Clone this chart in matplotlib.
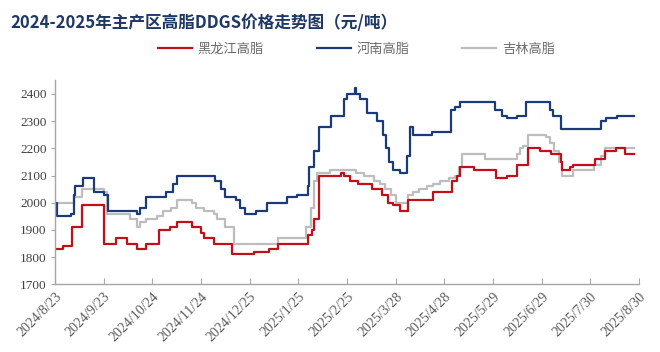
import matplotlib
matplotlib.use("Agg")
import matplotlib.pyplot as plt
import pandas as pd

# change points (date, price) - prices held until next change
hlj_dates = ["2024-08-23", "2024-08-28", "2024-09-03", "2024-09-09", "2024-09-23", "2024-10-01",
             "2024-10-08", "2024-10-14", "2024-10-20", "2024-10-28", "2024-11-04", "2024-11-09",
             "2024-11-18", "2024-11-24", "2024-11-26", "2024-12-02", "2024-12-14", "2024-12-28",
             "2025-01-06", "2025-01-12", "2025-01-31", "2025-02-03", "2025-02-04", "2025-02-07",
             "2025-02-21", "2025-02-23", "2025-02-27", "2025-03-04", "2025-03-13", "2025-03-19",
             "2025-03-23", "2025-03-26", "2025-03-31", "2025-04-05", "2025-04-21", "2025-05-03",
             "2025-05-06", "2025-05-08", "2025-05-17", "2025-05-31", "2025-06-07", "2025-06-13",
             "2025-06-20", "2025-06-28", "2025-07-05", "2025-07-11", "2025-07-12", "2025-07-17",
             "2025-07-19", "2025-08-02", "2025-08-08", "2025-08-15", "2025-08-21", "2025-08-27"]
hlj_vals = [1830, 1840, 1910, 1990, 1850, 1870,
            1850, 1830, 1850, 1900, 1910, 1930,
            1910, 1890, 1870, 1850, 1810, 1820,
            1830, 1850, 1880, 1900, 1940, 2100,
            2110, 2100, 2080, 2070, 2050, 2030,
            2000, 1990, 1970, 2010, 2040, 2080,
            2100, 2130, 2120, 2090, 2100, 2140,
            2200, 2190, 2180, 2150, 2120, 2130,
            2140, 2160, 2190, 2200, 2180, 2180]

hn_dates = ["2024-08-23", "2024-08-24", "2024-09-02", "2024-09-04", "2024-09-05", "2024-09-10",
            "2024-09-17", "2024-09-23", "2024-09-26", "2024-10-14", "2024-10-16", "2024-10-20",
            "2024-11-02", "2024-11-06", "2024-11-09", "2024-12-03", "2024-12-07", "2024-12-09",
            "2024-12-16", "2024-12-19", "2024-12-22", "2024-12-29", "2025-01-05", "2025-01-18",
            "2025-01-24", "2025-01-31", "2025-02-01", "2025-02-04", "2025-02-07", "2025-02-15",
            "2025-02-23", "2025-02-25", "2025-03-02", "2025-03-03", "2025-03-05", "2025-03-10",
            "2025-03-16", "2025-03-20", "2025-03-22", "2025-03-24", "2025-03-26", "2025-03-31",
            "2025-04-04", "2025-04-06", "2025-04-08", "2025-04-20", "2025-05-02", "2025-05-05",
            "2025-05-08", "2025-05-30", "2025-06-04", "2025-06-07", "2025-06-13", "2025-06-19",
            "2025-07-04", "2025-07-06", "2025-07-11", "2025-08-06", "2025-08-09", "2025-08-16",
            "2025-08-27"]
hn_vals = [2000, 1950, 1960, 2030, 2060, 2090,
           2040, 2030, 1970, 1960, 1980, 2020,
           2040, 2070, 2100, 2080, 2050, 2020,
           2010, 1980, 1960, 1970, 2000, 2020,
           2030, 2060, 2130, 2190, 2280, 2320,
           2380, 2400, 2420, 2400, 2380, 2330,
           2300, 2250, 2200, 2150, 2120, 2110,
           2170, 2280, 2250, 2260, 2340, 2350,
           2370, 2340, 2320, 2310, 2320, 2370,
           2340, 2320, 2270, 2300, 2310, 2320,
           2320]

jl_dates = ["2024-08-23", "2024-09-04", "2024-09-09", "2024-09-23", "2024-09-25", "2024-10-10",
            "2024-10-14", "2024-10-16", "2024-10-20", "2024-10-27", "2024-10-31", "2024-11-05",
            "2024-11-09", "2024-11-18", "2024-11-21", "2024-11-26", "2024-12-02", "2024-12-04",
            "2024-12-09", "2024-12-15", "2025-01-12", "2025-01-30", "2025-02-02", "2025-02-04",
            "2025-02-06", "2025-02-14", "2025-03-03", "2025-03-08", "2025-03-14", "2025-03-18",
            "2025-03-21", "2025-03-25", "2025-03-28", "2025-04-05", "2025-04-08", "2025-04-12",
            "2025-04-17", "2025-04-21", "2025-04-25", "2025-05-01", "2025-05-05", "2025-05-07",
            "2025-05-09", "2025-05-24", "2025-06-13", "2025-06-15", "2025-06-17", "2025-06-20",
            "2025-07-02", "2025-07-04", "2025-07-07", "2025-07-10", "2025-07-12", "2025-07-19",
            "2025-08-01", "2025-08-06", "2025-08-08", "2025-08-27"]
jl_vals = [2000, 2020, 2050, 2040, 1960, 1940,
           1910, 1930, 1940, 1950, 1970, 1980,
           2010, 2000, 1980, 1970, 1960, 1940,
           1910, 1850, 1870, 1910, 1980, 2080,
           2110, 2120, 2110, 2100, 2080, 2070,
           2050, 2030, 2000, 2030, 2040, 2050,
           2060, 2070, 2080, 2090, 2100, 2130,
           2180, 2160, 2180, 2200, 2210, 2250,
           2240, 2220, 2190, 2150, 2100, 2120,
           2140, 2170, 2200, 2200]

tick_labels = ["2024/8/23", "2024/9/23", "2024/10/24", "2024/11/24", "2024/12/25", "2025/1/25",
               "2025/2/25", "2025/3/28", "2025/4/28", "2025/5/29", "2025/6/29", "2025/7/30",
               "2025/8/30"]
y_ticks = [1700, 1800, 1900, 2000, 2100, 2200, 2300, 2400]

cjk = ["Noto Sans CJK SC", "DejaVu Sans"]

fig = plt.figure(figsize=(6.6, 3.52), dpi=100)
ax = fig.add_axes([0.0833, 0.192, 0.885, 0.58])

series = [
    ("黑龙江高脂", hlj_dates, hlj_vals, "#C0101A"),
    ("河南高脂", hn_dates, hn_vals, "#1A3A78"),
    ("吉林高脂", jl_dates, jl_vals, "#BDBDBD"),
]
# gray first so the colored lines sit on top
for name, d, v, c in [series[2], series[1], series[0]]:
    ax.plot(pd.to_datetime(d), v, drawstyle="steps-post", color=c, lw=1.6, label=name)

tick_pos = [pd.Timestamp(t.replace("/", "-")) for t in tick_labels]
ax.set_xlim(tick_pos[0], tick_pos[-1])
ax.set_xticks(tick_pos)
ax.set_xticklabels(tick_labels, rotation=45, ha="right", rotation_mode="anchor",
                   family="Liberation Serif", fontsize=10, color="#595959")
ax.set_ylim(1700, 2450)
ax.set_yticks(y_ticks)
ax.set_yticklabels([str(t) for t in y_ticks], family="Liberation Serif", fontsize=9.5,
                   color="#404040")

for s in ["top", "right"]:
    ax.spines[s].set_visible(False)
for s in ["left", "bottom"]:
    ax.spines[s].set_color("#A6A6A6")
    ax.spines[s].set_linewidth(1.0)
ax.tick_params(axis="y", direction="out", length=3, color="#A6A6A6", pad=3)
ax.tick_params(axis="x", direction="in", length=4, color="#A6A6A6", pad=4)

handles, labels = ax.get_legend_handles_labels()
order = [2, 1, 0]
fig.legend([handles[i] for i in order], [labels[i] for i in order], loc="center",
           bbox_to_anchor=(0.54, 0.86), ncol=3, frameon=False, handlelength=2.6,
           columnspacing=4.0, handletextpad=0.4, prop={"family": cjk, "size": 9.5},
           labelcolor="#6B6B6B")

fig.text(0.015, 0.935, "2024-2025年主产区高脂DDGS价格走势图（元/吨）", family=cjk,
         fontsize=12, fontweight="bold", color="#1F3864", va="center")

fig.savefig("out.png", dpi=100)
